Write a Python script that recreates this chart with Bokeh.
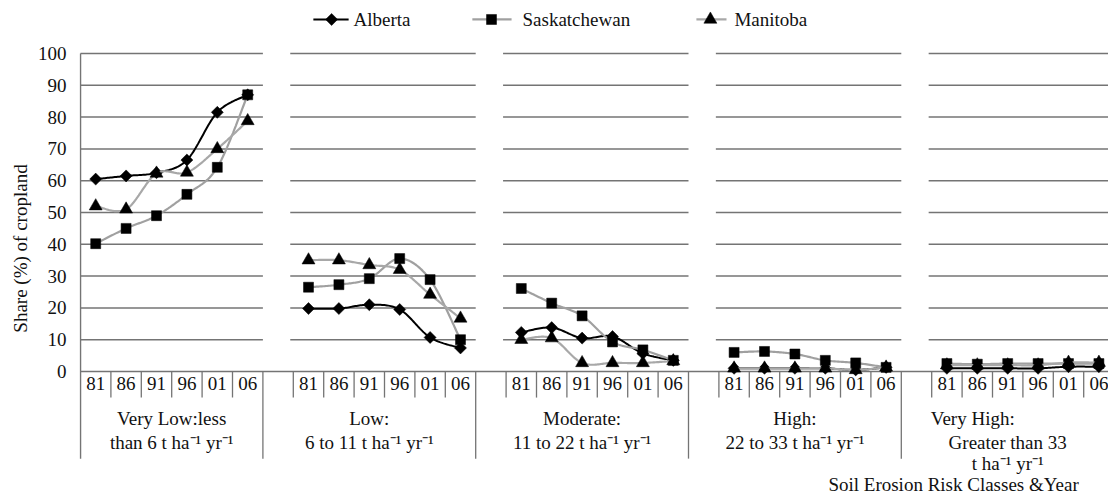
import numpy as np
from bokeh.plotting import figure
from bokeh.models import Range1d, FixedTicker
from bokeh.core.properties import value
from bokeh.embed import file_html
from bokeh.resources import INLINE

# ---------------- data ----------------
years = ["81", "86", "91", "96", "01", "06"]
class_labels = [
    ["Very Low:less", "than 6 t ha\u207b\u00b9 yr\u207b\u00b9"],
    ["Low:", "6 to 11 t ha\u207b\u00b9 yr\u207b\u00b9"],
    ["Moderate:", "11 to 22 t ha\u207b\u00b9 yr\u207b\u00b9"],
    ["High:", "22 to 33 t ha\u207b\u00b9 yr\u207b\u00b9"],
    ["Very High:", "Greater than 33", "t ha\u207b\u00b9 yr\u207b\u00b9"],
]
x_title = "Soil Erosion Risk Classes &Year"
y_title = "Share (%) of cropland"
y_ticks = [0, 10, 20, 30, 40, 50, 60, 70, 80, 90, 100]

alberta = [
    [60.5, 61.5, 62.5, 66.5, 81.5, 87.0],
    [19.8, 19.8, 21.0, 19.5, 10.7, 7.4],
    [12.3, 13.8, 10.5, 11.0, 5.7, 3.5],
    [1.0, 1.0, 1.0, 1.0, 0.5, 1.3],
    [1.0, 1.0, 1.0, 1.0, 1.5, 1.5],
]
saskatchewan = [
    [40.2, 45.0, 49.0, 55.7, 64.2, 87.0],
    [26.5, 27.3, 29.2, 35.5, 28.9, 10.0],
    [26.1, 21.5, 17.5, 9.3, 6.8, 3.5],
    [6.0, 6.3, 5.5, 3.5, 2.7, 1.3],
    [2.5, 2.3, 2.5, 2.5, 2.5, 2.5],
]
manitoba = [
    [52.0, 51.0, 62.3, 62.6, 70.0, 78.8],
    [35.0, 35.0, 33.5, 32.0, 24.2, 16.7],
    [10.0, 10.5, 2.7, 2.7, 2.7, 3.3],
    [1.0, 1.0, 1.0, 1.0, 0.5, 1.3],
    [2.0, 2.0, 2.0, 2.0, 2.8, 2.8],
]
series_names = ["Alberta", "Saskatchewan", "Manitoba"]

# ---------------- layout helpers ----------------
FONT = value("Liberation Serif")
SLOTS_PER_GROUP = 7          # 6 years + 1 blank slot
PX_PER_SLOT = 30.4
PX_PER_UNIT_Y = 3.18
FIG_W, FIG_H = 1108, 496
LEFT = 79
ZERO_Y_FIG = 371             # figure-pixel row of y = 0

x0 = -1.0 / PX_PER_SLOT
x1 = x0 + (FIG_W - LEFT) / PX_PER_SLOT
y1 = ZERO_Y_FIG / PX_PER_UNIT_Y
y0 = -(FIG_H - ZERO_Y_FIG) / PX_PER_UNIT_Y

p = figure(width=FIG_W, height=FIG_H, x_range=Range1d(x0, x1), y_range=Range1d(y0, y1),
           output_backend="svg", toolbar_location=None, x_axis_location=None,
           min_border_left=LEFT, min_border_right=0, min_border_top=0, min_border_bottom=0)
p.outline_line_color = None
p.xgrid.visible = False
p.ygrid.visible = False
p.background_fill_color = "white"
p.border_fill_color = "white"

yax = p.yaxis[0]
yax.ticker = FixedTicker(ticks=y_ticks)
yax.bounds = (0, 100)
yax.axis_line_color = None
yax.major_tick_line_color = None
yax.minor_tick_line_color = None
yax.major_label_text_font = "Liberation Serif"
yax.major_label_text_font_size = "19px"
yax.major_label_text_color = "#111111"
yax.major_label_standoff = 7
yax.axis_label = y_title
yax.axis_label_text_font = "Liberation Serif"
yax.axis_label_text_font_size = "19px"
yax.axis_label_text_font_style = "normal"
yax.axis_label_text_color = "#111111"
yax.axis_label_standoff = 4

n_groups = len(class_labels)
n_years = len(years)


def group_start(g):
    return g * SLOTS_PER_GROUP


# gridlines (segmented per group)
gx0, gx1, gy = [], [], []
for g in range(n_groups):
    s = group_start(g) - (0 if g == 0 else 0.1)
    e = group_start(g) + n_years if g < n_groups - 1 else x1 + 2
    for t in y_ticks[1:]:
        gx0.append(s); gx1.append(e); gy.append(t)
p.segment(x0=gx0, y0=gy, x1=gx1, y1=gy, line_color="#747474", line_width=1.5)

# category axis line at y = 0
p.segment(x0=[0], y0=[0], x1=[x1 + 2], y1=[0], line_color="#747474", line_width=1.5)
# y-axis line + its extension into the label area
p.segment(x0=[0], y0=[-27.4], x1=[0], y1=[100], line_color="#747474", line_width=1.5)

# separators below the axis
sx_short, sx_long = [], []
for g in range(n_groups):
    s = group_start(g)
    if g > 0:
        sx_short.append(s)
    for i in range(1, n_years):
        sx_short.append(s + i)
    sx_long.append(s + n_years)
p.segment(x0=sx_short, y0=[0] * len(sx_short), x1=sx_short, y1=[-8.2] * len(sx_short),
          line_color="#747474", line_width=1.3)
p.segment(x0=sx_long, y0=[0] * len(sx_long), x1=sx_long, y1=[-27.4] * len(sx_long),
          line_color="#747474", line_width=1.3)

# year labels
yl_x, yl_t = [], []
for g in range(n_groups):
    for i, yr in enumerate(years):
        yl_x.append(group_start(g) + i + 0.5)
        yl_t.append(yr)
p.text(x=yl_x, y=[-3.9] * len(yl_x), text=yl_t, text_font=FONT, text_font_size="19px",
       text_align="center", text_baseline="middle", text_color="#111111")

# group labels
line_y = [-14.9, -22.2, -28.9]
gl_x, gl_y, gl_t = [], [], []
for g, lines in enumerate(class_labels):
    if g == 0:
        cx = n_years / 2.0
    else:
        cx = group_start(g) - 1 + (n_years + 1) / 2.0
    for k, t in enumerate(lines):
        dx = -1.15 if (g == n_groups - 1 and k == 0) else 0.0
        gl_x.append(cx + dx); gl_y.append(line_y[k]); gl_t.append(t)
p.text(x=gl_x, y=gl_y, text=gl_t, text_font=FONT, text_font_size="19px",
       text_align="center", text_baseline="middle", text_color="#111111")

p.text(x=[28.72], y=[-35.6], text=[x_title], text_font=FONT, text_font_size="19px",
       text_align="center", text_baseline="middle", text_color="#111111")


# smoothed lines (Catmull-Rom style Bezier through the data points)
def smooth(xs, ys, steps=24):
    xs = np.asarray(xs, float); ys = np.asarray(ys, float)
    n = len(xs)
    px = np.concatenate([[xs[0]], xs, [xs[-1]]])
    py = np.concatenate([[ys[0]], ys, [ys[-1]]])
    ox, oy = [xs[0]], [ys[0]]
    t = np.linspace(0, 1, steps + 1)[1:]
    for i in range(n - 1):
        a = i + 1
        p0x, p0y = px[a], py[a]
        p3x, p3y = px[a + 1], py[a + 1]
        c1x = p0x + (px[a + 1] - px[a - 1]) / 6.0
        c1y = p0y + (py[a + 1] - py[a - 1]) / 6.0
        c2x = p3x - (px[a + 2] - px[a]) / 6.0
        c2y = p3y - (py[a + 2] - py[a]) / 6.0
        bx = (1 - t) ** 3 * p0x + 3 * (1 - t) ** 2 * t * c1x + 3 * (1 - t) * t ** 2 * c2x + t ** 3 * p3x
        by = (1 - t) ** 3 * p0y + 3 * (1 - t) ** 2 * t * c1y + 3 * (1 - t) * t ** 2 * c2y + t ** 3 * p3y
        ox.extend(bx.tolist()); oy.extend(by.tolist())
    return ox, oy


styles = [
    dict(data=alberta, color="#000000", width=2.0, marker="square", angle=np.pi / 4, size=8.5),
    dict(data=saskatchewan, color="#a0a0a0", width=2.2, marker="square", angle=0.0, size=10),
    dict(data=manitoba, color="#a8a8a8", width=2.2, marker="triangle", angle=0.0, size=13),
]

for st in styles:
    mxs, mys, px_all, py_all = [], [], [], []
    for g in range(n_groups):
        xs = [group_start(g) + i + 0.5 for i in range(n_years)]
        ys = st["data"][g]
        sx, sy = smooth(xs, ys)
        mxs.append(sx); mys.append(sy)
        px_all.extend(xs); py_all.extend(ys)
    p.multi_line(xs=mxs, ys=mys, line_color=st["color"], line_width=st["width"])
    p.scatter(x=px_all, y=py_all, marker=st["marker"], angle=st["angle"], size=st["size"],
              fill_color="black", line_color="black", line_width=0.5)

# legend (drawn at the top, like the original)
leg_y = 110.7
leg = [
    (7.66, 8.82, 8.26, 8.98, 0),
    (12.89, 14.18, 13.52, 14.54, 1),
    (20.26, 21.25, 20.72, 21.51, 2),
]
for lx0, lx1, mx, tx, k in leg:
    st = styles[k]
    p.segment(x0=[lx0], y0=[leg_y], x1=[lx1], y1=[leg_y], line_color=st["color"], line_width=st["width"])
    p.scatter(x=[mx], y=[leg_y], marker=st["marker"], angle=st["angle"], size=st["size"],
              fill_color="black", line_color="black", line_width=0.5)
    p.text(x=[tx], y=[leg_y], text=[series_names[k]], text_font=FONT, text_font_size="19px",
           text_align="left", text_baseline="middle", text_color="#111111")

open("out.html", "w").write(file_html(p, INLINE))
